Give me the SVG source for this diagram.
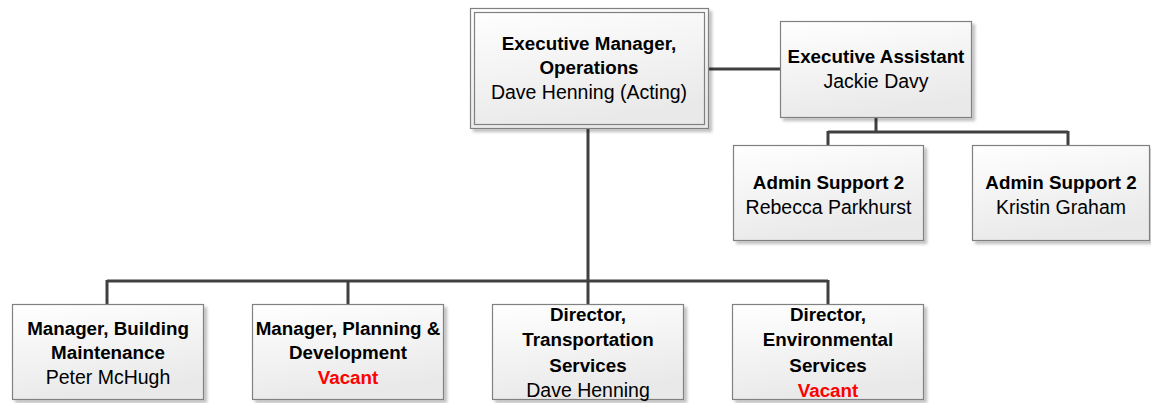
<svg xmlns="http://www.w3.org/2000/svg" width="1151" height="403" viewBox="0 0 1151 403">
<defs>
<linearGradient id="g" x1="0" y1="0" x2="0.3" y2="1">
<stop offset="0" stop-color="#ffffff"/>
<stop offset="1" stop-color="#e9e9e9"/>
</linearGradient>
<filter id="sh" x="-5%" y="-5%" width="115%" height="120%">
<feGaussianBlur in="SourceAlpha" stdDeviation="1.5"/>
<feOffset dx="3" dy="3" result="b"/>
<feComponentTransfer><feFuncA type="linear" slope="0.25"/></feComponentTransfer>
<feMerge><feMergeNode/><feMergeNode in="SourceGraphic"/></feMerge>
</filter>
<style>
.box{fill:url(#g);stroke:#808080;stroke-width:1.2}
.in{fill:none;stroke:#808080;stroke-width:1.2}
.t{font-family:"Liberation Sans",Arial,sans-serif;font-size:19.5px;fill:#000;text-anchor:middle}
.b{font-weight:bold;font-size:18.8px}
.v{fill:#ff0000;font-weight:bold;font-size:18.8px}
.c{fill:none;stroke:#404040;stroke-width:3}
</style>
</defs>
<rect width="1151" height="403" fill="#ffffff"/>
<g id="connectors">
<path class="c" d="M708 69H780"/>
<path class="c" d="M588 128V281M107 281H828M107 280V304M348 280V304M588 280V304M828 280V304"/>
<path class="c" d="M876 117V132M828 132H1068M828 131V145M1068 131V145"/>
</g>
<g id="exec-manager">
<rect class="box" x="470.5" y="8.5" width="238" height="120" filter="url(#sh)"/>
<rect class="in" x="474.5" y="12.5" width="230" height="112"/>
<text class="t b" x="589" y="50">Executive Manager,</text>
<text class="t b" x="589" y="74">Operations</text>
<text class="t" x="589" y="99">Dave Henning (Acting)</text>
</g>
<g id="exec-assistant">
<rect class="box" x="780.5" y="21.5" width="191" height="96" filter="url(#sh)"/>
<text class="t b" x="876" y="63">Executive Assistant</text>
<text class="t" x="876" y="88">Jackie Davy</text>
</g>
<g id="admin-1">
<rect class="box" x="733.5" y="145.5" width="190" height="95" filter="url(#sh)"/>
<text class="t b" x="828.5" y="189">Admin Support 2</text>
<text class="t" x="828.5" y="214">Rebecca Parkhurst</text>
</g>
<g id="admin-2">
<rect class="box" x="972.5" y="145.5" width="177" height="95" filter="url(#sh)"/>
<text class="t b" x="1061" y="189">Admin Support 2</text>
<text class="t" x="1061" y="214">Kristin Graham</text>
</g>
<g id="building">
<rect class="box" x="12.5" y="304.5" width="191" height="95" filter="url(#sh)"/>
<text class="t b" x="108" y="335">Manager, Building</text>
<text class="t b" x="108" y="359">Maintenance</text>
<text class="t" x="108" y="384">Peter McHugh</text>
</g>
<g id="planning">
<rect class="box" x="252.5" y="304.5" width="191" height="95" filter="url(#sh)"/>
<text class="t b" x="348" y="335">Manager, Planning &amp;</text>
<text class="t b" x="348" y="359">Development</text>
<text class="t v" x="348" y="384">Vacant</text>
</g>
<g id="transportation">
<rect class="box" x="492.5" y="304.5" width="191" height="95" filter="url(#sh)"/>
<text class="t b" x="588" y="321">Director,</text>
<text class="t b" x="588" y="346">Transportation</text>
<text class="t b" x="588" y="372">Services</text>
<text class="t" x="588" y="397">Dave Henning</text>
</g>
<g id="environmental">
<rect class="box" x="732.5" y="304.5" width="191" height="95" filter="url(#sh)"/>
<text class="t b" x="828" y="321">Director,</text>
<text class="t b" x="828" y="346">Environmental</text>
<text class="t b" x="828" y="372">Services</text>
<text class="t v" x="828" y="397">Vacant</text>
</g>
</svg>
